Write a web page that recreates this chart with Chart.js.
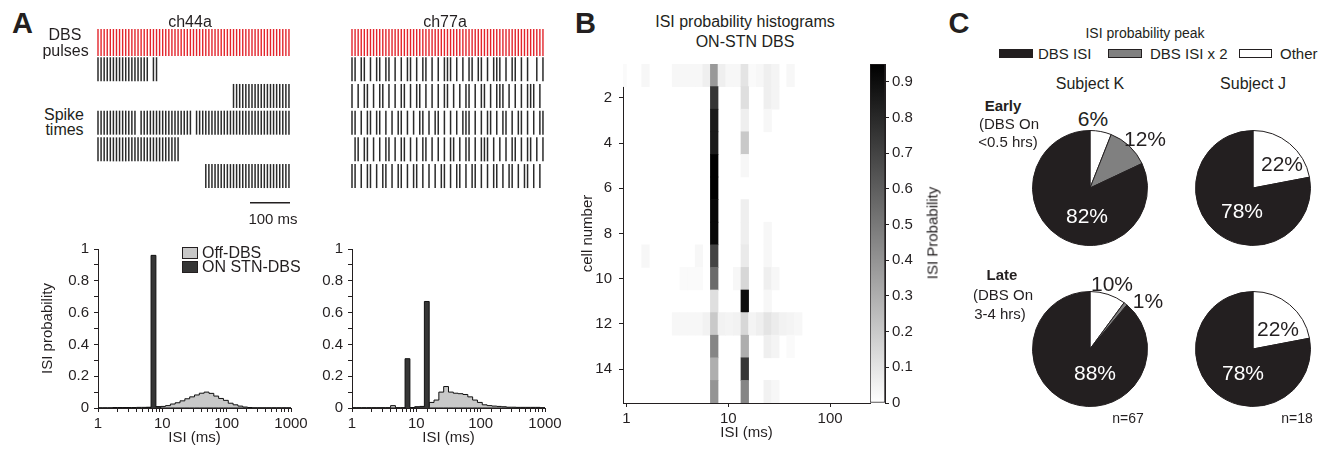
<!DOCTYPE html>
<html>
<head>
<meta charset="utf-8">
<title>ISI probability under STN-DBS</title>
<script src="https://cdn.jsdelivr.net/npm/chart.js@4.4.1/dist/chart.umd.min.js"></script>
<style>
  html, body { margin: 0; padding: 0; background: #fff; }
  body { position: relative; width: 1343px; height: 449px; overflow: hidden;
         font-family: "Liberation Sans", Arial, sans-serif; color: #231f20; }
  canvas { position: absolute; }
  .lbl { position: absolute; white-space: nowrap; line-height: 1; z-index: 2; }
  .box { position: absolute; box-sizing: border-box; border: 1px solid #231f20; z-index: 2; }
</style>
</head>
<body>
<script>
// ---------- data ----------

// DBS pulse train (130 Hz) inside the 480 ms raster window, ms
const DBS_PULSE_MS = [0, 7.7, 15.4, 23.1, 30.8, 38.5, 46.2, 53.9, 61.6, 69.3, 77, 84.7, 92.4,
  100.1, 107.8, 115.5, 123.2, 130.9, 138.6, 146.3, 154, 161.7, 169.4, 177.1, 184.8, 192.5,
  200.2, 207.9, 215.6, 223.3, 231, 238.7, 246.4, 254.1, 261.8, 269.5, 277.2, 284.9, 292.6,
  300.3, 308, 315.7, 323.4, 331.1, 338.8, 346.5, 354.2, 361.9, 369.6, 377.3, 385, 392.7,
  400.4, 408.1, 415.8, 423.5, 431.2, 438.9, 446.6, 454.3, 462, 469.7, 477.4];
const WINDOW_MS = 480;
const SCALE_BAR_MS = 100;

// spike rasters, one list per trial: index of the DBS pulse each spike sits on
const CH44A_SPIKES = [
  [0, 1, 2, 3, 4, 5, 6, 7, 8, 9, 10, 11, 12, 13, 14, 15, 16, 18, 19],
  [44, 45, 46, 47, 48, 49, 50, 51, 52, 53, 54, 55, 56, 57, 58, 59, 60, 61, 62],
  [0, 1, 2, 3, 4, 5, 6, 7, 8, 9, 10, 11, 12, 14, 15, 16, 17, 18, 19, 20, 21, 22, 23, 24, 25,
   26, 27, 28, 29, 30, 32, 33, 34, 35, 36, 37, 38, 39, 40, 41, 42, 43, 44, 45, 46, 47, 48, 49,
   50, 51, 52, 53, 54, 55, 56, 57, 58, 59, 60, 61, 62],
  [0, 1, 2, 3, 4, 5, 6, 7, 8, 9, 10, 11, 12, 13, 14, 15, 16, 17, 18, 19, 20, 21, 22, 23, 24, 25, 26],
  [35, 36, 37, 38, 39, 40, 41, 42, 43, 44, 45, 46, 47, 48, 49, 50, 51, 52, 53, 54, 55, 56, 57,
   58, 59, 60, 61, 62]
];
const CH77A_SPIKES = [
  [0, 1, 3, 4, 6, 8, 9, 11, 12, 14, 16, 18, 19, 21, 23, 24, 26, 28, 30, 31, 32, 34, 36, 38,
   39, 41, 42, 44, 46, 47, 48, 50, 52, 53, 55, 57, 60, 62],
  [0, 2, 4, 5, 7, 9, 10, 12, 14, 16, 17, 19, 21, 22, 24, 26, 28, 30, 31, 33, 35, 37, 38, 40,
   42, 43, 45, 47, 48, 49, 51, 53, 55, 57, 58, 59, 61],
  [0, 1, 3, 5, 6, 8, 9, 11, 13, 15, 16, 18, 20, 22, 23, 25, 27, 28, 30, 32, 34, 36, 37, 38,
   40, 42, 44, 45, 47, 49, 50, 52, 54, 55, 57, 59, 61, 62],
  [1, 2, 4, 5, 7, 9, 11, 12, 14, 16, 17, 19, 21, 23, 24, 26, 28, 30, 32, 33, 35, 37, 38, 40,
   42, 43, 44, 46, 48, 50, 52, 53, 55, 57, 58, 60, 62],
  [0, 1, 3, 5, 6, 8, 10, 11, 13, 15, 16, 18, 20, 21, 23, 25, 27, 29, 30, 32, 34, 35, 37, 39,
   40, 42, 44, 46, 47, 49, 51, 52, 54, 56, 57, 59, 61]
];

// log-spaced ISI bin edges, ms (shared by the histograms and the heat map)
const ISI_EDGES_MS = [0.841, 1, 1.189, 1.413, 1.679, 1.995, 2.371, 2.818, 3.35, 3.981, 4.732,
  5.623, 6.683, 7.943, 9.441, 11.22, 13.34, 15.85, 18.84, 22.39, 26.61, 31.62, 37.58, 44.67,
  53.09, 63.1, 74.99, 89.13, 105.9, 125.9, 149.6, 177.8, 211.3, 251.2, 298.5, 354.8, 421.7,
  501.2, 595.7, 707.9, 841.4, 1000];

// ISI probability per bin (bin i spans ISI_EDGES_MS[i]..ISI_EDGES_MS[i+1])
const CH44A_OFF = [0, 0.001, 0.001, 0.001, 0.003, 0.003, 0.003, 0.003, 0.003, 0.004, 0.004,
  0.004, 0.004, 0.008, 0.01, 0.015, 0.025, 0.033, 0.045, 0.058, 0.07, 0.082, 0.093, 0.1, 0.092,
  0.075, 0.06, 0.048, 0.03, 0.02, 0.012, 0.006, 0.003, 0.001, 0.001, 0.001, 0.001, 0.001,
  0.001, 0.001, 0.001];
const CH44A_ON = [0, 0, 0, 0, 0, 0, 0, 0, 0, 0, 0, 0.004, 0.96, 0.008, 0, 0, 0, 0, 0, 0, 0,
  0, 0, 0, 0, 0, 0, 0, 0, 0, 0, 0, 0, 0, 0, 0, 0, 0, 0, 0, 0];
const CH77A_OFF = [0, 0.002, 0.002, 0.002, 0.002, 0.002, 0.002, 0.002, 0.002, 0.015, 0.002,
  0.002, 0.002, 0.002, 0.004, 0.005, 0.01, 0.035, 0.05, 0.1, 0.135, 0.1, 0.093, 0.09, 0.085,
  0.07, 0.05, 0.035, 0.02, 0.015, 0.012, 0.01, 0.008, 0.005, 0.005, 0.004, 0.004, 0.004,
  0.004, 0.004, 0.002];
const CH77A_ON = [0, 0, 0, 0, 0, 0, 0, 0, 0, 0, 0, 0, 0.31, 0.003, 0.008, 0.01, 0.67, 0, 0, 0,
  0, 0, 0, 0, 0, 0, 0, 0, 0, 0, 0, 0, 0, 0, 0, 0, 0, 0, 0, 0, 0];

// ON-STN DBS ISI probability, cells 1..15 (rows) x first 24 ISI bins
const HEAT_PROB = [
  [.02, 0, 0, .03, 0, 0, 0, .03, .03, .03, .03, .06, .38, .06, .03, .03, .1, .02, .03, .06, .04, 0, .03, 0],
  [0, 0, 0, 0, 0, 0, 0, 0, 0, 0, 0, 0, .75, 0, 0, 0, .12, 0, 0, .06, .04, 0, 0, 0],
  [0, 0, 0, 0, 0, 0, 0, 0, 0, 0, 0, 0, .85, 0, 0, 0, .06, 0, 0, .03, 0, 0, 0, 0],
  [0, 0, 0, 0, 0, 0, 0, 0, 0, 0, 0, 0, .85, 0, 0, 0, .2, 0, 0, 0, 0, 0, 0, 0],
  [0, 0, 0, 0, 0, 0, 0, 0, 0, 0, 0, 0, .95, 0, 0, 0, .03, 0, 0, 0, 0, 0, 0, 0],
  [0, 0, 0, 0, 0, 0, 0, 0, 0, 0, 0, 0, .95, 0, 0, 0, 0, 0, 0, 0, 0, 0, 0, 0],
  [0, 0, 0, 0, 0, 0, 0, 0, 0, 0, 0, 0, .92, 0, 0, 0, .06, 0, 0, 0, 0, 0, 0, 0],
  [0, 0, 0, 0, 0, 0, 0, 0, 0, 0, 0, 0, .92, 0, 0, 0, .06, 0, 0, .03, 0, 0, 0, 0],
  [0, 0, 0, .03, 0, 0, 0, 0, 0, 0, .03, 0, .7, 0, 0, 0, .08, 0, 0, .03, 0, 0, 0, 0],
  [0, 0, 0, 0, 0, 0, 0, 0, .02, .02, .02, 0, .55, 0, 0, .03, .15, 0, 0, .06, .03, 0, 0, 0],
  [0, 0, 0, 0, 0, 0, 0, 0, 0, 0, 0, 0, .12, 0, 0, 0, .9, 0, 0, .03, 0, 0, 0, 0],
  [0, 0, 0, 0, 0, 0, 0, .03, .03, .03, .03, .05, .2, .05, .04, .05, .15, .04, .06, .1, .07, .05, .04, .03],
  [0, 0, 0, 0, 0, 0, 0, 0, 0, 0, 0, 0, .45, 0, 0, 0, .3, 0, 0, .06, .04, 0, .02, 0],
  [0, 0, 0, 0, 0, 0, 0, 0, 0, 0, 0, 0, .3, 0, 0, 0, .75, 0, 0, 0, 0, 0, 0, 0],
  [0, 0, 0, 0, 0, 0, 0, 0, 0, 0, 0, 0, .4, 0, 0, 0, .45, 0, 0, .05, .03, 0, 0, 0]
];
const HEAT_X_TICKS = [1, 10, 100];
const CELL_TICKS = [2, 4, 6, 8, 10, 12, 14];
const COLORBAR_MAX = 0.95;
const COLORBAR_TICKS = [0, 0.1, 0.2, 0.3, 0.4, 0.5, 0.6, 0.7, 0.8, 0.9];

// ISI probability peak, % of cells (clockwise from 12 o'clock)
const PEAK_LABELS = ['Other', 'DBS ISI x 2', 'DBS ISI'];
const K_EARLY = [6, 12, 82];
const J_EARLY = [22, 0, 78];
const K_LATE = [10, 1, 88];
const J_LATE = [22, 0, 78];

// ---------- styling ----------
const INK = '#231f20';
const RED = '#e3242b';
const ON_FILL = '#363636';
const OFF_FILL = '#c8c8c8';
const PEAK_COLORS = ['#ffffff', '#808080', INK];

Chart.defaults.font.family = '"Liberation Sans", Arial, sans-serif';
Chart.defaults.color = INK;
Chart.defaults.animation = false;
Chart.defaults.responsive = false;
Chart.defaults.layout.autoPadding = false;
Chart.defaults.plugins.legend.display = false;
Chart.defaults.plugins.tooltip.enabled = false;

function makeCanvas(left, top, w, h) {
  const c = document.createElement('canvas');
  c.width = w; c.height = h;
  c.style.left = left + 'px'; c.style.top = top + 'px';
  c.style.width = w + 'px'; c.style.height = h + 'px';
  document.body.appendChild(c);
  return c;
}

function label(text, x, y, size, opts = {}) {
  const d = document.createElement('div');
  d.className = 'lbl';
  d.textContent = text;
  d.style.left = x + 'px';
  d.style.top = y + 'px';
  d.style.fontSize = size + 'px';
  if (opts.bold) d.style.fontWeight = 'bold';
  if (opts.color) d.style.color = opts.color;
  let tf = opts.left ? 'translate(0,-50%)' : 'translate(-50%,-50%)';
  if (opts.rotate) tf += ' rotate(' + opts.rotate + 'deg)';
  d.style.transform = tf;
  document.body.appendChild(d);
}

function box(x, y, w, h, fill) {
  const d = document.createElement('div');
  d.className = 'box';
  Object.assign(d.style, { left: x + 'px', top: y + 'px', width: w + 'px', height: h + 'px', background: fill });
  document.body.appendChild(d);
}

const axisGrid = { drawOnChartArea: false, color: INK, tickLength: 4, offset: false };
const axisBorder = { color: INK, width: 1 };

// fixed axis boxes, and no extra room for end labels (the canvas padding handles that)
const fixHeight = h => s => { s.height = h; s.paddingLeft = 0; s.paddingRight = 0; };
const fixWidth = w => s => { s.width = w; s.paddingTop = 0; s.paddingBottom = 0; };

// ---------- A: rasters ----------
function rasterChart(originX, spikes, withScaleBar) {
  const cv = makeCanvas(originX - 8, 20, 210, 190);
  const spikeStyle = { pointStyle: 'line', pointRotation: 90, pointBorderColor: '#2a2a2a', pointBorderWidth: 1.5 };
  const datasets = [{
    data: DBS_PULSE_MS.map(t => ({ x: t, y: 0 })),
    pointStyle: 'line', pointRotation: 90, pointRadius: 13.5,
    pointBorderColor: RED, pointBorderWidth: 1.4, clip: false
  }];
  spikes.forEach((row, i) => datasets.push(Object.assign({
    data: row.map(k => ({ x: DBS_PULSE_MS[k], y: i + 1 })), pointRadius: 12, clip: false
  }, spikeStyle)));
  if (withScaleBar) {
    datasets.push({
      data: [{ x: WINDOW_MS - SCALE_BAR_MS, y: 6 }, { x: WINDOW_MS, y: 6 }],
      showLine: true, borderColor: INK, borderWidth: 1.5, pointRadius: 0, clip: false
    });
  }
  new Chart(cv, {
    type: 'scatter',
    data: { datasets },
    options: {
      layout: { padding: 0 },
      scales: {
        x: { type: 'linear', min: -20, max: 505, display: false },
        y: { type: 'linear', min: -0.843, max: 6.27, reverse: true, display: false }
      }
    }
  });
}
rasterChart(98, CH44A_SPIKES, true);
rasterChart(352, CH77A_SPIKES, false);

// ---------- A: ISI histograms ----------
function histSteps(probs) {
  const pts = [{ x: ISI_EDGES_MS[0], y: 0 }];
  probs.forEach((p, i) => pts.push({ x: ISI_EDGES_MS[i], y: p }));
  pts.push({ x: ISI_EDGES_MS[probs.length], y: probs[probs.length - 1] });
  pts.push({ x: ISI_EDGES_MS[probs.length], y: 0 });
  return pts;
}
const isDecade = v => Math.abs(Math.log10(v) - Math.round(Math.log10(v))) < 1e-6;

function histChart(canvasLeft, plotLeft, canvasRight, onProbs, offProbs, yTitle) {
  const plotRight = plotLeft + 193;
  const cv = makeCanvas(canvasLeft, 239, canvasRight - canvasLeft, 210);
  const common = { stepped: 'before', pointRadius: 0, borderWidth: 1, borderColor: '#111', fill: 'origin' };
  new Chart(cv, {
    type: 'line',
    data: {
      datasets: [
        Object.assign({ label: 'ON STN-DBS', data: histSteps(onProbs), backgroundColor: ON_FILL }, common),
        Object.assign({ label: 'Off-DBS', data: histSteps(offProbs), backgroundColor: OFF_FILL }, common)
      ]
    },
    options: {
      layout: { padding: { top: 10, right: canvasRight - plotRight } },
      scales: {
        x: {
          type: 'logarithmic', min: 1, max: 1000,
          border: axisBorder, grid: axisGrid,
          ticks: { autoSkip: false, maxRotation: 0, padding: 3, font: { size: 15 },
                   callback: v => isDecade(v) ? String(v) : '' },
          title: { display: true, text: 'ISI (ms)', font: { size: 15 }, padding: { top: 0, bottom: 2 } },
          afterFit: fixHeight(41)
        },
        y: {
          min: 0, max: 1,
          border: axisBorder, grid: axisGrid,
          ticks: { stepSize: 0.1, autoSkip: false, padding: 5, font: { size: 15 },
                   callback: v => Math.round(v * 10) % 2 === 0 ? String(Math.round(v * 10) / 10) : '' },
          title: { display: !!yTitle, text: yTitle || '', font: { size: 15 }, padding: { top: 4, bottom: 0 } },
          afterFit: fixWidth(plotLeft - canvasLeft)
        }
      }
    }
  });
}
histChart(35, 98, 310, CH44A_ON, CH44A_OFF, 'ISI probability');
histChart(300, 352, 565, CH77A_ON, CH77A_OFF, null);

// ---------- B: heat map + colour bar ----------
const probGray = p => {
  const g = Math.round(255 * (1 - Math.min(p / COLORBAR_MAX, 1)));
  return 'rgb(' + g + ',' + g + ',' + g + ')';
};
const heatCells = [];
HEAT_PROB.forEach((row, r) => row.forEach((p, i) => {
  if (p > 0) heatCells.push({ x: [ISI_EDGES_MS[i], ISI_EDGES_MS[i + 1]], y: r + 1, p });
}));

new Chart(makeCanvas(575, 55, 301, 394), {
  type: 'bar',
  data: {
    datasets: [{
      data: heatCells,
      backgroundColor: c => probGray(c.raw.p),
      borderWidth: 0, barPercentage: 1, categoryPercentage: 1
    }]
  },
  options: {
    indexAxis: 'y',
    layout: { padding: { top: 9, right: 6 } },
    scales: {
      x: {
        type: 'logarithmic', min: 0.926, max: 246.8,
        border: axisBorder, grid: axisGrid,
        afterBuildTicks: s => { s.ticks = HEAT_X_TICKS.map(v => ({ value: v })); },
        ticks: { padding: 3, font: { size: 15 }, callback: v => String(v) },
        title: { display: true, text: 'ISI (ms)', font: { size: 15 }, padding: { top: 0, bottom: 7 } },
        afterFit: fixHeight(46)
      },
      y: {
        type: 'linear', min: 0.5, max: 15.5, reverse: true, offset: false,
        border: axisBorder, grid: axisGrid,
        afterBuildTicks: s => { s.ticks = CELL_TICKS.map(v => ({ value: v })); },
        ticks: { padding: 7, font: { size: 15 }, callback: v => String(v) },
        title: { display: true, text: 'cell number', font: { size: 15 }, padding: { top: 4, bottom: 0 } },
        afterFit: fixWidth(48)
      }
    }
  }
});

new Chart(makeCanvas(865, 55, 70, 365), {
  type: 'bar',
  data: {
    labels: [''],
    datasets: [{
      data: [[0, COLORBAR_MAX]],
      backgroundColor: c => {
        const a = c.chart.chartArea;
        if (!a) return '#888';
        const g = c.chart.ctx.createLinearGradient(0, a.bottom, 0, a.top);
        g.addColorStop(0, '#ffffff');
        g.addColorStop(1, '#000000');
        return g;
      },
      borderColor: INK, borderWidth: 1, borderSkipped: false,
      barPercentage: 1, categoryPercentage: 1
    }]
  },
  options: {
    layout: { padding: { left: 5, top: 9, bottom: 17 } },
    scales: {
      x: { display: false },
      y: {
        position: 'right', min: 0, max: COLORBAR_MAX,
        border: axisBorder, grid: axisGrid,
        afterBuildTicks: s => { s.ticks = COLORBAR_TICKS.map(v => ({ value: v })); },
        ticks: { padding: 3, font: { size: 15 }, callback: v => String(v) },
        afterFit: fixWidth(50)
      }
    }
  }
});

// ---------- C: pies ----------
function pieChart(cx, cy, values) {
  const cv = makeCanvas(Math.round(cx - 58), Math.round(cy - 58), 116, 116);
  new Chart(cv, {
    type: 'pie',
    data: {
      labels: PEAK_LABELS,
      datasets: [{ data: values, backgroundColor: PEAK_COLORS, borderColor: INK, borderWidth: 1,
                   hoverOffset: 0, offset: 0 }]
    },
    options: { layout: { padding: 0 } }
  });
}
pieChart(1090, 188, K_EARLY);
pieChart(1253, 188, J_EARLY);
pieChart(1090, 349, K_LATE);
pieChart(1253, 349, J_LATE);

// ---------- text ----------
label('A', 22.5, 22.5, 29, { bold: true });
label('B', 585.5, 23, 29, { bold: true });
label('C', 959, 22.5, 29, { bold: true });

label('ch44a', 190, 22, 16);
label('ch77a', 445, 22, 16);
label('DBS', 65, 35, 16);
label('pulses', 65.5, 51, 16);
label('Spike', 64, 115, 16);
label('times', 64.5, 130, 16);
label('100 ms', 273, 218, 15);

box(182, 247, 16, 12, OFF_FILL);
box(182, 261, 16, 12, ON_FILL);
label('Off-DBS', 202, 253, 16, { left: true });
label('ON STN-DBS', 202, 267, 16, { left: true });

label('ISI probability histograms', 745, 22, 16);
label('ON-STN DBS', 745, 42, 16);
label('ISI Probability', 932, 233, 15, { rotate: -90 });

label('ISI probability peak', 1145, 33, 14);
box(999, 49, 34, 9, INK);
box(1108, 49, 34, 9, '#808080');
box(1239, 49, 33, 9, '#ffffff');
label('DBS ISI', 1038, 53, 15, { left: true });
label('DBS ISI x 2', 1150, 53, 15, { left: true });
label('Other', 1280, 53, 15, { left: true });

label('Subject K', 1090, 84, 16);
label('Subject J', 1253, 84, 16);
label('Early', 1003, 105, 15, { bold: true });
label('(DBS On', 1009, 123, 15);
label('<0.5 hrs)', 1008, 141, 15);
label('Late', 1002, 274, 15, { bold: true });
label('(DBS On', 1003, 294, 15);
label('3-4 hrs)', 1000, 313, 15);

label('6%', 1093, 118, 21);
label('12%', 1145, 138, 21);
label('82%', 1087, 215, 21, { color: '#fff' });
label('22%', 1282, 163, 21);
label('78%', 1242, 210, 21, { color: '#fff' });
label('10%', 1112, 283, 21);
label('1%', 1148, 300, 21);
label('88%', 1095, 372, 21, { color: '#fff' });
label('22%', 1278, 328, 21);
label('78%', 1243, 372, 21, { color: '#fff' });
label('n=67', 1128, 418, 14);
label('n=18', 1297, 418, 14);
</script>
</body>
</html>
